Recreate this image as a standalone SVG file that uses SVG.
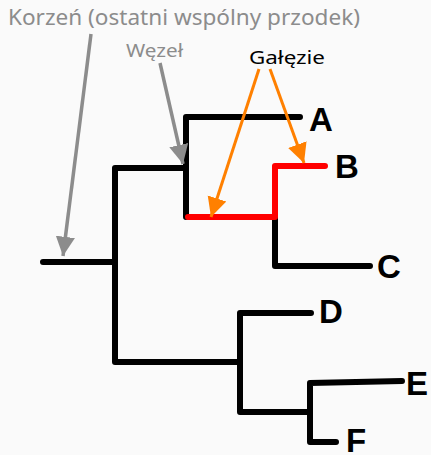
<svg xmlns="http://www.w3.org/2000/svg" width="431" height="455" viewBox="0 0 431 455">
<defs>
<style>
.t{fill:none;stroke:#000;stroke-width:6;stroke-linecap:round;stroke-linejoin:round}
.r{fill:none;stroke:#ff0000;stroke-width:6;stroke-linecap:round;stroke-linejoin:round}
.ga{stroke:#8c8c8c;stroke-width:3.5;fill:none}
.oa{stroke:#ff8000;stroke-width:3;fill:none}
.lbl{font-family:"Liberation Sans",Arial,sans-serif;font-weight:bold;font-size:33px;fill:#000}
.ann{font-family:"Noto Sans","Liberation Sans",sans-serif}
</style>
<marker id="mg" viewBox="0 0 10 10" refX="10" refY="5" markerWidth="5.5" markerHeight="5.5" orient="auto" markerUnits="strokeWidth"><path d="M0,0 L10,5 L0,10 z" fill="#8c8c8c"/></marker>
<marker id="mo" viewBox="0 0 10 10" refX="10" refY="5" markerWidth="6.5" markerHeight="7" orient="auto" markerUnits="strokeWidth"><path d="M0,0 L10,5 L0,10 z" fill="#ff8000"/></marker>
</defs>
<rect width="431" height="455" fill="#fafafa"/>
<g id="tree">
<path class="t" d="M43,262 H115 M115,168 V362 M115,168 H186 M186,117 V217 M186,117 H300 M275,217 V266 H370 M115,362 H240 M240,313 V412 M240,313 H311 M240,412 H310 M310,383 V442 H336 M310,383 L402,381"/>
<path class="r" d="M188,217 H275 V166 H325"/>
</g>
<g id="connectors">
<line class="ga" x1="91" y1="34" x2="63" y2="256" marker-end="url(#mg)"/>
<line class="ga" x1="160" y1="63" x2="183" y2="164" marker-end="url(#mg)"/>
<line class="oa" x1="259" y1="69" x2="211" y2="217" marker-end="url(#mo)"/>
<line class="oa" x1="270" y1="69" x2="304" y2="163" marker-end="url(#mo)"/>
</g>
<g id="labels">
<text class="lbl" x="309" y="131">A</text>
<text class="lbl" x="335" y="178">B</text>
<text class="lbl" x="377" y="278">C</text>
<text class="lbl" x="319" y="323">D</text>
<text class="lbl" x="406" y="395">E</text>
<text class="lbl" x="346" y="452">F</text>
</g>
<g id="root-label"><text class="ann" x="8" y="25" font-size="21" fill="#8c8c8c" textLength="352" lengthAdjust="spacingAndGlyphs">Korzeń (ostatni wspólny przodek)</text></g>
<g id="node-label"><text class="ann" x="126" y="57" font-size="18" fill="#8c8c8c" textLength="57" lengthAdjust="spacingAndGlyphs">Węzeł</text></g>
<g id="branch-label"><text class="ann" x="249" y="64" font-size="18" fill="#000" textLength="76" lengthAdjust="spacingAndGlyphs">Gałęzie</text></g>
</svg>
